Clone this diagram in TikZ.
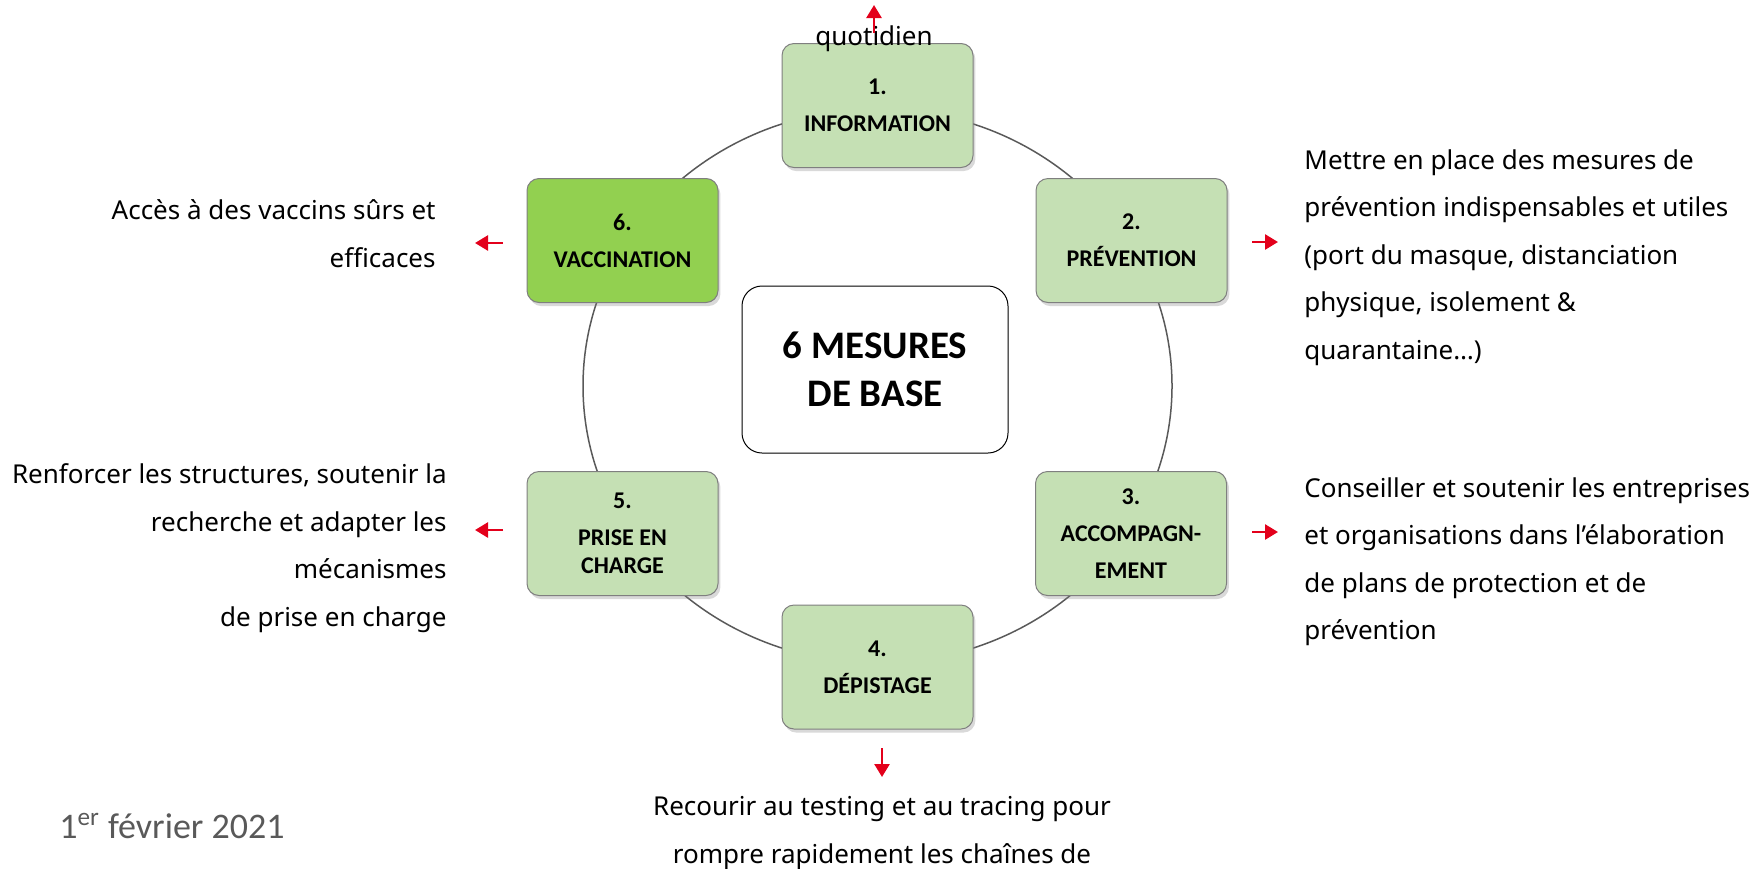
\documentclass[tikz,border=0pt]{standalone}
\usepackage{fontspec}
\setmainfont{Noto Sans}
\newfontfamily\calibri{Carlito}
\usetikzlibrary{arrows.meta,shadows}
\definecolor{mesvert}{HTML}{C5E0B4}
\definecolor{vaccvert}{HTML}{92D050}
\definecolor{anneau}{HTML}{595959}
\definecolor{bordgris}{HTML}{7F7F7F}
\definecolor{rougefl}{HTML}{E3001B}
\definecolor{dategris}{HTML}{595959}

\begin{document}
\begin{tikzpicture}[x=0.5pt,y=-0.5pt,
    mesure/.style={draw=bordgris,fill=mesvert,rounded corners=6pt,line width=0.5pt,
      minimum width=95.5pt,minimum height=62pt,align=center,inner sep=0pt,
      font=\calibri\bfseries\fontsize{12}{18.5}\selectfont,
      drop shadow={shadow xshift=1.2pt,shadow yshift=-1.8pt,opacity=0.3}},
    explic/.style={font=\fontsize{13}{23.75}\selectfont,inner sep=0pt},
    fleche/.style={rougefl,line width=1.3pt,-{Triangle[length=6.5pt,width=7.5pt]}}]
  \useasboundingbox (0,0) rectangle (1754,868);
  \draw[anneau,line width=0.75pt] (877.5,386) ellipse [x radius=294.5, y radius=277];
  \node[mesure] (info) at (877.5,105.5) {1.\\INFORMATION};
  \node[mesure] (prev) at (1131.5,240.5) {2.\\PRÉVENTION};
  \node[mesure] (accomp) at (1131,533.5) {3.\\ACCOMPAGN-\\EMENT};
  \node[mesure] (depist) at (877.5,667) {4.\\DÉPISTAGE};
  \node[mesure] (prise) at (622.5,533.5) {5.\\PRISE EN\\[-4.5pt]CHARGE};
  \node[mesure,fill=vaccvert] (vacc) at (622.5,240.5) {6.\\VACCINATION};
  \node[draw=black,fill=white,rounded corners=10pt,line width=0.5pt,minimum width=133pt,
    minimum height=83.5pt,align=center,font=\calibri\bfseries\fontsize{19.5}{24}\selectfont]
    (centre) at (875,369.5) {6 MESURES\\DE BASE};

  \node[explic,anchor=base] (txtinfo) at (874,45) {quotidien};
  \node[explic,anchor=base west,align=left] (txtprev) at (1304,359)
    {Mettre en place des mesures de\\prévention indispensables et utiles\\(port du masque, distanciation\\physique, isolement \&\\quarantaine…)};
  \node[explic,anchor=base west,align=left] (txtaccomp) at (1304,639.5)
    {Conseiller et soutenir les entreprises\\et organisations dans l’élaboration\\de plans de protection et de\\prévention};
  \node[explic,anchor=base,align=center] (txtdepist) at (882,863)
    {Recourir au testing et au tracing pour\\rompre rapidement les chaînes de};
  \node[explic,anchor=base east,align=right] (txtprise) at (447,626)
    {Renforcer les structures, soutenir la\\recherche et adapter les\\mécanismes\\de prise en charge};
  \node[explic,anchor=base east,align=right] (txtvacc) at (436,267)
    {Accès à des vaccins sûrs et\\efficaces};
  \node[font=\calibri\fontsize{18}{22}\selectfont,text=dategris,anchor=base west,inner sep=0pt]
    (date) at (59,838) {1\textsuperscript{er} février 2021};

  \coordinate (f1a) at (874,33);   \coordinate (f1b) at (874,5);
  \coordinate (f2a) at (1252,242); \coordinate (f2b) at (1278,242);
  \coordinate (f3a) at (1252,532); \coordinate (f3b) at (1278,532);
  \coordinate (f4a) at (882,748);  \coordinate (f4b) at (882,777);
  \coordinate (f5a) at (503,530);  \coordinate (f5b) at (475,530);
  \coordinate (f6a) at (503,243);  \coordinate (f6b) at (475,243);
  \draw[fleche] (f1a) -- (f1b);
  \draw[fleche] (f2a) -- (f2b);
  \draw[fleche] (f3a) -- (f3b);
  \draw[fleche] (f4a) -- (f4b);
  \draw[fleche] (f5a) -- (f5b);
  \draw[fleche] (f6a) -- (f6b);
\end{tikzpicture}
\end{document}
